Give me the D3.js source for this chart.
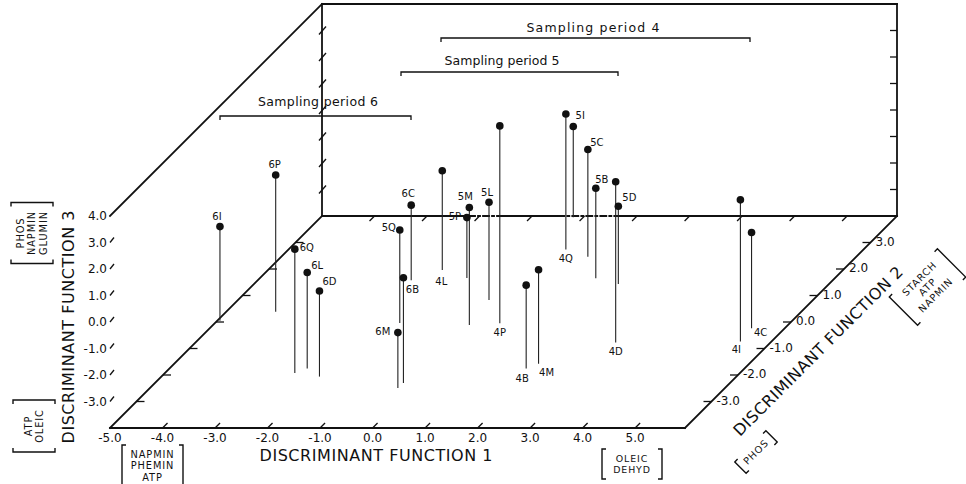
<!DOCTYPE html>
<html>
<head>
<meta charset="utf-8">
<script src="https://cdn.jsdelivr.net/npm/d3@7/dist/d3.min.js"></script>
<style>
  body { margin: 0; background: #fff; }
  text { font-family: "DejaVu Sans", sans-serif; fill: #111; }
</style>
</head>
<body>
<div id="chart"></div>
<script>
// discriminant scores of each sample (period digit + site letter)
const samples = ["6I", "6P", "6Q", "6L", "6D", "6C", "6B", "6M",
                 "5Q", "5M", "5P", "5L", "5I", "5C", "5B", "5D",
                 "4L", "4P", "4B", "4M", "4Q", "4D", "4I", "4C"];
const df1 = [-4.95, -4.06, -2.53, -2.38, -1.99, -2.08, -0.27, -0.28,
             -1.48, -0.12, -1.06, -0.22, -0.19, 0.84, 1.40, 1.94,
             -1.68, 0.43, 1.79, 1.94, 0.28, 3.00, 5.36, 5.32];
const df2 = [0.05, 0.39, -1.92, -1.75, -2.06, 1.58, -2.30, -2.49,
             -0.04, -0.11, 1.66, 0.83, 3.95, 2.46, 1.65, 1.43,
             1.96, -0.05, -1.75, -1.58, 2.74, -0.77, -0.74, -0.24];
const df3 = [-0.45, 1.16, 0.67, -0.38, -0.77, -1.17, -0.03, -1.91,
             -0.49, 0.43, -1.72, -0.31, -0.57, 0.05, -0.60, -1.06,
             -0.25, 3.45, -0.86, -0.45, 1.11, 2.06, 1.35, -0.38];

// axis ticks
const df1Ticks = [-5, -4, -3, -2, -1, 0, 1, 2, 3, 4, 5];
const df2Ticks = [-3, -2, -1, 0, 1, 2, 3];
const df3Ticks = [-3, -2, -1, 0, 1, 2, 3, 4];

// axis titles and the variables loading on each end
const axisTitles = ["DISCRIMINANT FUNCTION 1", "DISCRIMINANT FUNCTION 2", "DISCRIMINANT FUNCTION 3"];
const df1Low = ["NAPMIN", "PHEMIN", "ATP"];
const df1High = ["OLEIC", "DEHYD"];
const df2Low = ["PHOS"];
const df2High = ["STARCH", "ATP", "NAPMIN"];
const df3Low = ["ATP", "OLEIC"];
const df3High = ["PHOS", "NAPMIN", "GLUMIN"];

const periods = ["Sampling period 4", "Sampling period 5", "Sampling period 6"];

// ---- layout (screen positions, not data) ----
const WIDTH = 966, HEIGHT = 484;
const ORIGIN = { x: 110, y: 428 }; // front-left floor corner
// label offsets: from the dot, or from the stem foot for period 4
const labelOffset = {
  "6I": [-3, -10], "6P": [-1, -10], "6Q": [12, -2], "6L": [10, -7], "6D": [10, -9],
  "6C": [-3, -12], "6B": [9, 12], "6M": [-15, -1],
  "5Q": [-11, -3], "5M": [-4, -11], "5P": [-12, -1], "5L": [-2, -10], "5I": [7, -11],
  "5C": [9, -7], "5B": [6, -9], "5D": [11, -9],
  "4L": [-1, 11], "4P": [0, 9], "4B": [-4, 10], "4M": [8, 9], "4Q": [0, 9],
  "4D": [0, 9], "4I": [-4, 8], "4C": [9, 4]
};
const periodLayout = [
  { x0: 441, x1: 750, y: 38, tx: 593, ty: 32, len: 133 },
  { x0: 401, x1: 618, y: 72, tx: 502, ty: 65, len: 115 },
  { x0: 220, x1: 411, y: 116, tx: 318, ty: 106, len: 120 }
];
// bits of the back floor edge drawn broken (in DF1 units)
const backDashed = [[-2.2, -1.6], [-0.5, 0.7]];

const svg = d3.select("#chart")
  .append("svg")
  .attr("width", WIDTH)
  .attr("height", HEIGHT);

// oblique projection: DF1 across, DF2 into the page at 45 degrees, DF3 up
const xScale = d3.scaleLinear().domain([-5, 5.95]).range([0, 575]);
const yScale = d3.scaleLinear().domain([-4, 4]).range([0, 212]);
const zScale = d3.scaleLinear().domain([-4, 4]).range([0, 212]);

function project(a, b, c) {
  return [ORIGIN.x + xScale(a) + yScale(b), ORIGIN.y - yScale(b) - zScale(c)];
}

const [X0, X1] = xScale.domain();
const [Y0, Y1] = yScale.domain();
const [Z0, Z1] = zScale.domain();

const line = d3.line();
const box = svg.append("g")
  .attr("fill", "none")
  .attr("stroke", "#111")
  .attr("stroke-width", 1.8)
  .attr("stroke-linecap", "square");

function edge(p, q, dash) {
  box.append("path")
    .attr("d", line([p, q]))
    .attr("stroke-dasharray", dash || null);
}

// floor
edge(project(X0, Y0, Z0), project(X1, Y0, Z0));
edge(project(X1, Y0, Z0), project(X1, Y1, Z0));
edge(project(X0, Y0, Z0), project(X0, Y1, Z0));
// back floor edge, broken where the stems crowd
let from = X0;
backDashed.forEach(function(d) {
  edge(project(from, Y1, Z0), project(d[0], Y1, Z0));
  edge(project(d[0], Y1, Z0), project(d[1], Y1, Z0), "6,3,2,3");
  from = d[1];
});
edge(project(from, Y1, Z0), project(X1, Y1, Z0));
// walls
edge(project(X0, Y0, Z1), project(X0, Y1, Z1));
edge(project(X0, Y1, Z1), project(X1, Y1, Z1));
edge(project(X0, Y1, Z0), project(X0, Y1, Z1));
edge(project(X1, Y1, Z0), project(X1, Y1, Z1));

// tick marks
const ticks = svg.append("g")
  .attr("fill", "none")
  .attr("stroke", "#111")
  .attr("stroke-width", 1.3);

function tick(p, dx, dy) {
  ticks.append("path").attr("d", line([p, [p[0] + dx, p[1] + dy]]));
}

df1Ticks.filter(v => v > X0).forEach(function(v) {
  tick(project(v, Y0, Z0), 5, -5);
  tick(project(v, Y1, Z0), -5, 5);
});
df2Ticks.forEach(function(v) {
  tick(project(X1, v, Z0), -8, 0);
  tick(project(X0, v, Z0), 8, 0);
});
df3Ticks.forEach(function(v) {
  if (v < Z1) {
    const p = project(X0, Y0, v);
    tick(p, 4, -5);
    const b = project(X0, Y1, v);
    tick([b[0] - 3, b[1] + 4], 7, -8);
    tick(project(X1, Y1, v), -7, 0);
  }
});

// tick labels
const tickLabels = svg.append("g").style("font-size", "12px");

df1Ticks.forEach(function(v) {
  const p = project(v, Y0, Z0);
  tickLabels.append("text")
    .attr("x", p[0])
    .attr("y", p[1] + 10)
    .attr("dy", "0.35em")
    .attr("text-anchor", "middle")
    .text(v.toFixed(1));
});
df2Ticks.forEach(function(v) {
  const p = project(X1, v, Z0);
  tickLabels.append("text")
    .attr("x", p[0] + 5)
    .attr("y", p[1] - 1)
    .attr("dy", "0.35em")
    .attr("text-anchor", "start")
    .text(v.toFixed(1));
});
df3Ticks.forEach(function(v) {
  const p = project(X0, Y0, v);
  tickLabels.append("text")
    .attr("x", p[0] - 3)
    .attr("y", p[1])
    .attr("dy", "0.35em")
    .attr("text-anchor", "end")
    .text(v.toFixed(1));
});

// axis titles
const titles = svg.append("g").style("font-size", "16px");
titles.append("text")
  .attr("transform", "translate(376,455)")
  .attr("dy", "0.35em")
  .attr("text-anchor", "middle")
  .attr("textLength", 233)
  .attr("lengthAdjust", "spacing")
  .text(axisTitles[0]);
titles.append("text")
  .attr("transform", "translate(818,351) rotate(-45)")
  .attr("dy", "0.35em")
  .attr("text-anchor", "middle")
  .attr("textLength", 232)
  .attr("lengthAdjust", "spacing")
  .text(axisTitles[1]);
titles.append("text")
  .attr("transform", "translate(68,327) rotate(-90)")
  .attr("dy", "0.35em")
  .attr("text-anchor", "middle")
  .attr("textLength", 233)
  .attr("lengthAdjust", "spacing")
  .text(axisTitles[2]);

// bracketed variable lists at each axis end
function bracketBlock(lines, cx, cy, angle, w, h, lh, size) {
  const g = svg.append("g")
    .attr("transform", "translate(" + cx + "," + cy + ") rotate(" + angle + ")");
  lines.forEach(function(t, i) {
    g.append("text")
      .attr("y", (i - (lines.length - 1) / 2) * lh)
      .attr("dy", "0.35em")
      .attr("text-anchor", "middle")
      .style("font-size", size + "px")
      .style("letter-spacing", "0.9px")
      .text(t);
  });
  const arm = 4;
  g.append("path")
    .attr("d",
      "M" + (-w / 2 + arm) + "," + (-h / 2) + "H" + (-w / 2) + "V" + (h / 2) + "H" + (-w / 2 + arm) +
      "M" + (w / 2 - arm) + "," + (-h / 2) + "H" + (w / 2) + "V" + (h / 2) + "H" + (w / 2 - arm))
    .attr("fill", "none")
    .attr("stroke", "#111")
    .attr("stroke-width", 1.4);
}
bracketBlock(df3High, 32, 233, -90, 61, 42, 11.6, 9.8);
bracketBlock(df3Low, 34, 426, -90, 52, 42, 11.6, 9.8);
bracketBlock(df1Low, 152.5, 466, 0, 61, 42, 11.6, 9.8);
bracketBlock(df1High, 632, 464, 0, 60, 30, 11.1, 9.4);
bracketBlock(df2High, 927.5, 287, -45, 68, 40, 11.6, 9.8);
bracketBlock(df2Low, 756, 452, -45, 44, 16, 11.6, 9.8);

// sampling period brackets
const pg = svg.append("g");
periods.forEach(function(t, i) {
  const L = periodLayout[i];
  pg.append("path")
    .attr("d", "M" + L.x0 + "," + (L.y + 4) + "V" + L.y + "H" + L.x1 + "V" + (L.y + 4))
    .attr("fill", "none")
    .attr("stroke", "#111")
    .attr("stroke-width", 1.3);
  pg.append("text")
    .attr("x", L.tx)
    .attr("y", L.ty)
    .attr("text-anchor", "middle")
    .attr("textLength", L.len)
    .attr("lengthAdjust", "spacing")
    .style("font-size", "12.5px")
    .text(t);
});

// samples: stem from floor up to the point
const points = samples.map(function(id, i) {
  const top = project(df1[i], df2[i], df3[i]);
  const foot = project(df1[i], df2[i], Z0);
  return { id: id, top: top, foot: foot };
});

svg.append("g")
  .selectAll("path.stem")
  .data(points)
  .enter()
  .append("path")
  .attr("class", "stem")
  .attr("d", d => line([d.top, d.foot]))
  .attr("stroke", "#222")
  .attr("stroke-width", 1.1);

svg.append("g")
  .selectAll("circle.dot")
  .data(points)
  .enter()
  .append("circle")
  .attr("class", "dot")
  .attr("cx", d => d.top[0])
  .attr("cy", d => d.top[1])
  .attr("r", 3.8)
  .attr("fill", "#111");

svg.append("g")
  .selectAll("text.lab")
  .data(points)
  .enter()
  .append("text")
  .attr("class", "lab")
  .attr("x", function(d) {
    const base = d.id[0] === "4" ? d.foot : d.top;
    return base[0] + labelOffset[d.id][0];
  })
  .attr("y", function(d) {
    const base = d.id[0] === "4" ? d.foot : d.top;
    return base[1] + labelOffset[d.id][1];
  })
  .attr("dy", "0.35em")
  .attr("text-anchor", "middle")
  .style("font-size", "10px")
  .text(d => d.id);
</script>
</body>
</html>
